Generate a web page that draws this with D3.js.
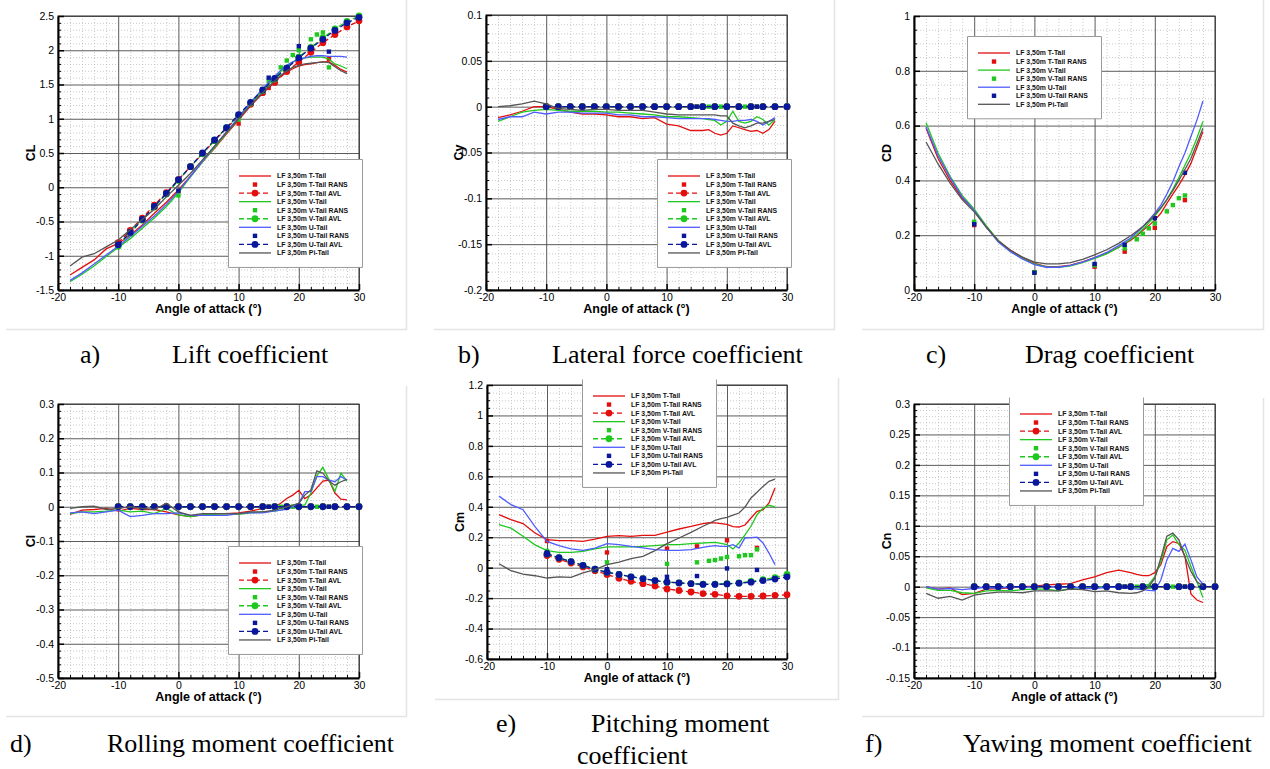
<!DOCTYPE html>
<html>
<head>
<meta charset="utf-8">
<script src="https://cdn.jsdelivr.net/npm/d3@7"></script>
<style>
  body { margin: 0; background: #fff; }
  svg { display: block; }
</style>
</head>
<body>
<svg id="fig" width="1270" height="769"></svg>
<script>
// ---- angles of attack ----
const aoaLine = [-18,-16,-14,-12,-10,-8,-6,-4,-2,0,2,4,6,8,10,12,14,16,17,18,19,20,21,22,23,24,25,26,27,28];
const aoaAvl = [-10,-8,-6,-4,-2,0,2,4,6,8,10,12,14,16,18,20,22,24,26,28,30];
const aoaRansT = [-10,0,10,15,20,25];
const aoaRansV = [-10,0,10,15,17,18,19,20,22,23,24,25];
const aoaRansU = [-10,0,10,15,20,25];

const xTicks = [-20,-10,0,10,20,30];

const seriesLabels = ["LF 3,50m T-Tail","LF 3,50m T-Tail RANS","LF 3,50m T-Tail AVL",
  "LF 3,50m V-Tail","LF 3,50m V-Tail RANS","LF 3,50m V-Tail AVL",
  "LF 3,50m U-Tail","LF 3,50m U-Tail RANS","LF 3,50m U-Tail AVL","LF 3,50m Pi-Tail"];

const captionLetters = ["a)","b)","c)","d)","e)","f)"];
const captionTitles = [["Lift coefficient"],["Lateral force coefficient"],["Drag coefficient"],
  ["Rolling moment coefficient"],["Pitching moment","coefficient"],["Yawing moment coefficient"]];
const yLabels = ["CL","Cy","CD","Cl","Cm","Cn"];

// ---- a) CL ----
const clTicks = [-1.5,-1,-0.5,0,0.5,1,1.5,2,2.5];
const clT  = [-1.28,-1.17,-1.06,-0.90,-0.82,-0.70,-0.55,-0.38,-0.22,-0.04,0.16,0.37,0.57,0.78,0.98,1.19,1.37,1.54,1.62,1.68,1.73,1.77,1.79,1.80,1.82,1.83,1.83,1.78,1.72,1.68];
const clV  = [-1.38,-1.27,-1.15,-1.01,-0.88,-0.75,-0.60,-0.45,-0.28,-0.08,0.15,0.37,0.58,0.79,1.00,1.22,1.42,1.60,1.69,1.77,1.83,1.87,1.89,1.90,1.90,1.90,1.87,1.80,1.77,1.73];
const clU  = [-1.36,-1.25,-1.12,-0.99,-0.86,-0.72,-0.57,-0.42,-0.25,-0.06,0.16,0.38,0.60,0.81,1.02,1.24,1.44,1.62,1.71,1.78,1.83,1.86,1.89,1.91,1.92,1.92,1.91,1.91,1.91,1.90];
const clPi = [-1.15,-1.02,-0.97,-0.87,-0.77,-0.62,-0.47,-0.32,-0.14,0.03,0.20,0.40,0.60,0.80,1.00,1.20,1.38,1.55,1.63,1.70,1.75,1.78,1.80,1.81,1.82,1.83,1.82,1.76,1.70,1.66];
const clRansT = [-0.81,-0.06,0.93,1.45,1.84,1.87];
const clRansV = [-0.87,-0.12,0.99,1.55,1.75,1.85,1.93,2.00,2.16,2.23,2.26,1.75];
const clRansU = [-0.84,-0.05,1.05,1.60,2.06,1.98];
const clAvlT = [-0.81,-0.63,-0.45,-0.26,-0.08,0.11,0.30,0.49,0.68,0.86,1.04,1.21,1.38,1.53,1.69,1.83,1.97,2.11,2.23,2.34,2.43];
const clAvlV = [-0.86,-0.67,-0.48,-0.29,-0.10,0.10,0.30,0.49,0.68,0.87,1.05,1.23,1.41,1.58,1.74,1.90,2.04,2.18,2.31,2.42,2.50];
const clAvlU = [-0.84,-0.66,-0.47,-0.28,-0.09,0.11,0.30,0.50,0.69,0.87,1.06,1.24,1.42,1.59,1.74,1.89,2.03,2.16,2.29,2.40,2.48];

// ---- b) Cy ----
const cyTicks = [-0.2,-0.15,-0.1,-0.05,0,0.05,0.1];
const cyT  = [-0.012,-0.009,-0.005,0.000,0.000,-0.003,-0.006,-0.008,-0.008,-0.009,-0.011,-0.011,-0.013,-0.012,-0.019,-0.021,-0.026,-0.026,-0.025,-0.029,-0.031,-0.029,-0.021,-0.023,-0.025,-0.027,-0.026,-0.029,-0.025,-0.016];
const cyV  = [-0.016,-0.011,-0.006,-0.004,-0.003,-0.004,-0.005,-0.005,-0.005,-0.006,-0.006,-0.007,-0.008,-0.009,-0.011,-0.011,-0.012,-0.013,-0.014,-0.015,-0.020,-0.016,-0.005,-0.016,-0.018,-0.016,-0.011,-0.014,-0.020,-0.014];
const cyU  = [-0.014,-0.011,-0.011,-0.006,-0.008,-0.006,-0.006,-0.007,-0.007,-0.007,-0.009,-0.009,-0.011,-0.011,-0.012,-0.013,-0.013,-0.013,-0.013,-0.014,-0.015,-0.016,-0.016,-0.015,-0.015,-0.014,-0.016,-0.020,-0.016,-0.012];
const cyPi = [0.000,0.001,0.003,0.006,0.003,-0.002,-0.003,-0.004,-0.003,-0.003,-0.004,-0.004,-0.004,-0.006,-0.008,-0.009,-0.009,-0.009,-0.009,-0.009,-0.010,-0.010,-0.018,-0.021,-0.023,-0.021,-0.018,-0.018,-0.016,-0.014];
const zeroRans6 = [0,0,0,0,0,0];
const zeroRans12 = [0,0,0,0,0,0,0,0,0,0,0,0];
const zeroAvl = [0,0,0,0,0,0,0,0,0,0,0,0,0,0,0,0,0,0,0,0,0];

// ---- c) CD ----
const cdTicks = [0,0.2,0.4,0.6,0.8,1];
const cdT  = [0.59,0.48,0.40,0.335,0.292,0.23,0.18,0.146,0.119,0.097,0.085,0.085,0.091,0.103,0.118,0.134,0.156,0.182,0.198,0.217,0.235,0.255,0.28,0.316,0.35,0.383,0.42,0.462,0.52,0.578];
const cdV  = [0.61,0.50,0.415,0.345,0.295,0.235,0.18,0.142,0.115,0.095,0.084,0.083,0.088,0.10,0.115,0.132,0.155,0.185,0.202,0.222,0.245,0.27,0.298,0.33,0.368,0.41,0.455,0.50,0.555,0.615];
const cdU  = [0.595,0.49,0.41,0.34,0.29,0.23,0.175,0.14,0.113,0.093,0.083,0.083,0.09,0.102,0.118,0.137,0.162,0.19,0.21,0.23,0.255,0.28,0.31,0.35,0.395,0.45,0.50,0.56,0.62,0.69];
const cdPi = [0.54,0.46,0.39,0.33,0.285,0.23,0.18,0.145,0.12,0.102,0.095,0.095,0.10,0.112,0.128,0.147,0.17,0.198,0.214,0.232,0.252,0.275,0.30,0.33,0.363,0.40,0.44,0.48,0.535,0.59];
const cdRansT = [0.237,0.065,0.085,0.14,0.227,0.328];
const cdRansV = [0.249,0.065,0.09,0.152,0.185,0.205,0.225,0.243,0.287,0.31,0.335,0.345];
const cdRansU = [0.24,0.063,0.095,0.165,0.262,0.428];

// ---- d) Cl ----
const clrTicks = [-0.5,-0.4,-0.3,-0.2,-0.1,0,0.1,0.2,0.3];
const clrT  = [-0.022,-0.010,-0.008,-0.005,-0.013,-0.005,-0.008,-0.008,-0.015,-0.024,-0.029,-0.024,-0.020,-0.020,-0.018,-0.013,-0.005,0.000,0.010,0.024,0.034,0.048,0.024,0.035,0.055,0.075,0.078,0.040,0.022,0.020];
const clrV  = [-0.020,-0.015,-0.015,-0.013,-0.010,-0.015,-0.013,-0.020,-0.005,-0.024,-0.029,-0.024,-0.022,-0.020,-0.022,-0.018,-0.015,-0.013,-0.010,-0.005,0.000,0.005,0.005,0.040,0.090,0.115,0.080,0.045,0.098,0.075];
const clrU  = [-0.018,-0.015,-0.020,-0.015,-0.010,-0.029,-0.025,-0.020,-0.020,-0.018,-0.025,-0.025,-0.025,-0.025,-0.020,-0.018,-0.018,-0.012,-0.010,-0.008,0.000,0.010,0.044,0.044,0.088,0.088,0.078,0.073,0.088,0.078];
const clrPi = [-0.005,0.000,0.002,-0.008,-0.005,0.000,-0.005,-0.008,0.010,-0.015,-0.025,-0.020,-0.020,-0.020,-0.020,-0.015,-0.015,-0.010,-0.005,0.000,0.005,0.010,0.034,0.049,0.105,0.098,0.075,0.063,0.073,0.080];

// ---- e) Cm ----
const cmTicks = [-0.6,-0.4,-0.2,0,0.2,0.4,0.6,0.8,1,1.2];
const cmT  = [0.348,0.315,0.29,0.228,0.184,0.177,0.177,0.173,0.188,0.206,0.21,0.206,0.212,0.212,0.234,0.254,0.271,0.29,0.295,0.294,0.29,0.284,0.27,0.267,0.28,0.326,0.37,0.38,0.425,0.524];
const cmV  = [0.282,0.26,0.206,0.15,0.112,0.10,0.10,0.107,0.123,0.136,0.136,0.136,0.14,0.145,0.151,0.151,0.158,0.162,0.165,0.166,0.16,0.151,0.123,0.162,0.215,0.272,0.348,0.39,0.41,0.40];
const cmU  = [0.47,0.414,0.381,0.27,0.173,0.145,0.123,0.114,0.129,0.158,0.152,0.14,0.13,0.118,0.114,0.114,0.118,0.134,0.14,0.145,0.14,0.14,0.151,0.129,0.195,0.197,0.20,0.162,0.096,0.02];
const cmPi = [0.026,-0.02,-0.042,-0.053,-0.068,-0.061,-0.064,-0.035,-0.013,0.02,0.037,0.059,0.074,0.112,0.158,0.195,0.232,0.272,0.29,0.311,0.322,0.331,0.345,0.359,0.398,0.458,0.495,0.534,0.567,0.582];
const cmRansT = [0.175,0.10,0.125,0.14,0.18,0.13];
const cmRansV = [0.11,0.035,0.025,0.035,0.045,0.05,0.06,0.07,0.075,0.082,0.082,0.12];
const cmRansU = [0.10,-0.01,-0.06,-0.055,-0.005,-0.015];
const cmAvlT = [0.08,0.055,0.03,0.005,-0.02,-0.045,-0.07,-0.09,-0.105,-0.12,-0.14,-0.15,-0.16,-0.17,-0.175,-0.185,-0.188,-0.188,-0.186,-0.182,-0.178];
const cmAvlV = [0.09,0.065,0.04,0.015,-0.01,-0.03,-0.045,-0.06,-0.072,-0.085,-0.095,-0.1,-0.105,-0.108,-0.108,-0.105,-0.1,-0.09,-0.078,-0.065,-0.045];
const cmAvlU = [0.09,0.065,0.04,0.015,-0.01,-0.03,-0.045,-0.06,-0.072,-0.085,-0.095,-0.1,-0.105,-0.11,-0.11,-0.107,-0.102,-0.095,-0.085,-0.075,-0.06];

// ---- f) Cn ----
const cnTicks = [-0.15,-0.1,-0.05,0,0.05,0.1,0.15,0.2,0.25,0.3];
const cnT  = [0.000,-0.004,-0.002,-0.013,-0.011,-0.004,-0.003,-0.002,0.000,0.001,0.003,0.004,0.005,0.011,0.016,0.023,0.027,0.023,0.020,0.018,0.018,0.023,0.036,0.066,0.074,0.071,0.050,-0.012,-0.022,-0.026];
const cnV  = [-0.002,-0.006,-0.006,-0.010,-0.011,-0.007,-0.006,-0.007,-0.005,-0.004,-0.004,-0.007,-0.003,-0.001,0.000,0.000,-0.001,-0.001,-0.001,0.000,0.004,0.016,0.041,0.077,0.085,0.069,0.060,0.033,0.008,-0.018];
const cnU  = [0.000,-0.004,-0.003,-0.005,-0.003,-0.001,-0.003,0.000,-0.001,0.000,0.001,-0.001,0.000,-0.003,-0.003,-0.001,-0.001,-0.003,-0.004,-0.005,-0.006,-0.007,0.011,0.044,0.063,0.058,0.070,0.044,0.016,0.004];
const cnPi = [-0.011,-0.019,-0.016,-0.022,-0.014,-0.011,-0.009,-0.009,-0.010,-0.007,-0.007,-0.007,-0.004,-0.005,-0.008,-0.007,-0.010,-0.011,-0.010,-0.007,0.000,0.014,0.047,0.083,0.088,0.077,0.049,0.025,0.008,0.001];

// colours
var colRed = "#e30f0f", colGreen = "#1fc81f", colBlueLine = "#4f5cff", colBlueDark = "#0a179c", colGray = "#555555";

// builds the 10 legend-ordered series of one panel
function makeSeries(lines, rans, avl) {
  var s = [
    {kind: "line", color: colRed, x: aoaLine, y: lines[0], label: 0},
    {kind: "rans", color: colRed, x: aoaRansT, y: rans[0], label: 1},
    {kind: "avl", color: colRed, x: aoaAvl, y: avl ? avl[0] : null, label: 2},
    {kind: "line", color: colGreen, x: aoaLine, y: lines[1], label: 3},
    {kind: "rans", color: colGreen, x: aoaRansV, y: rans[1], label: 4},
    {kind: "avl", color: colGreen, x: aoaAvl, y: avl ? avl[1] : null, label: 5},
    {kind: "line", color: colBlueLine, x: aoaLine, y: lines[2], label: 6},
    {kind: "rans", color: colBlueDark, x: aoaRansU, y: rans[2], label: 7},
    {kind: "avl", color: colBlueDark, x: aoaAvl, y: avl ? avl[2] : null, label: 8},
    {kind: "line", color: colGray, x: aoaLine, y: lines[3], label: 9}
  ];
  return s.filter(d => d.y);
}

var panels = [
  {L: 58, R: 359, T: 16, B: 290, yDom: [-1.5, 2.5], yTicks: clTicks, yMinor: 0.1,
   frame: [6, 0, 406, 329], legend: {x: 228, y: 159},
   series: makeSeries([clT, clV, clU, clPi], [clRansT, clRansV, clRansU], [clAvlT, clAvlV, clAvlU]),
   cap: {lx: 80, tx: 172, base: 363}},
  {L: 486, R: 787, T: 15, B: 290, yDom: [-0.2, 0.1], yTicks: cyTicks, yMinor: 0.01,
   frame: [434, 0, 834, 329], legend: {x: 657, y: 159},
   series: makeSeries([cyT, cyV, cyU, cyPi], [zeroRans6, zeroRans12, zeroRans6], [zeroAvl, zeroAvl, zeroAvl]),
   cap: {lx: 458, tx: 552, base: 363}},
  {L: 914, R: 1215, T: 16, B: 290, yDom: [0, 1], yTicks: cdTicks, yMinor: 0.05,
   frame: [862, 0, 1263, 329], legend: {x: 967, y: 36},
   series: makeSeries([cdT, cdV, cdU, cdPi], [cdRansT, cdRansV, cdRansU], null),
   cap: {lx: 926, tx: 1025, base: 363}},
  {L: 58, R: 359, T: 404, B: 678, yDom: [-0.5, 0.3], yTicks: clrTicks, yMinor: 0.02,
   frame: [6, 386, 406, 716], legend: {x: 228, y: 546},
   series: makeSeries([clrT, clrV, clrU, clrPi], [zeroRans6, zeroRans12, zeroRans6], [zeroAvl, zeroAvl, zeroAvl]),
   cap: {lx: 10, tx: 107, base: 752}},
  {L: 487, R: 787, T: 385, B: 659, yDom: [-0.6, 1.2], yTicks: cmTicks, yMinor: 0.05,
   frame: [435, 378, 838, 699], legend: {x: 582, y: 379, noTop: true},
   series: makeSeries([cmT, cmV, cmU, cmPi], [cmRansT, cmRansV, cmRansU], [cmAvlT, cmAvlV, cmAvlU]),
   cap: {lx: 496, tx: 591, tx2: 577, base: 732, base2: 764}},
  {L: 914, R: 1215, T: 404, B: 678, yDom: [-0.15, 0.3], yTicks: cnTicks, yMinor: 0.01,
   frame: [862, 398, 1263, 716], legend: {x: 1009, y: 397, noTop: true},
   series: makeSeries([cnT, cnV, cnU, cnPi], [zeroRans6, zeroRans12, zeroRans6], [zeroAvl, zeroAvl, zeroAvl]),
   cap: {lx: 865, tx: 963, base: 752}}
];

var svg = d3.select("#fig");
svg.append("rect").attr("width", 1270).attr("height", 769).attr("fill", "#fff");

var sans = "'Liberation Sans', Arial, Helvetica, sans-serif";
var serif = "'Liberation Serif', 'Times New Roman', serif";

function drawPanel(p, idx) {
  var x = d3.scaleLinear().domain([-20, 30]).range([p.L, p.R]);
  var y = d3.scaleLinear().domain(p.yDom).range([p.B, p.T]);
  var W = p.R - p.L, H = p.B - p.T;
  var g = svg.append("g");

  // faint edge of the pasted picture
  g.append("path")
    .attr("d", "M" + p.frame[0] + "," + (p.frame[3] + 0.5) + "H" + (p.frame[2] + 0.5) + "V" + p.frame[1])
    .attr("fill", "none").attr("stroke", "#e4e4e4").attr("stroke-width", 1.5);

  var xMinor = d3.range(-20, 31, 2).filter(v => v % 10 !== 0);
  var n = Math.round((p.yDom[1] - p.yDom[0]) / p.yMinor);
  var yMinor = d3.range(n + 1).map(i => p.yDom[0] + i * p.yMinor)
    .filter(v => !p.yTicks.some(t => Math.abs(t - v) < 1e-9));

  function styleGrid(sel, color, dash, w) {
    sel.select(".domain").remove();
    sel.selectAll("line").attr("stroke", color).attr("stroke-width", w).attr("stroke-dasharray", dash);
  }

  // minor grid
  g.append("g").attr("transform", "translate(0," + p.B + ")")
    .call(d3.axisBottom(x).tickValues(xMinor).tickSize(-H).tickFormat(""))
    .call(styleGrid, "#bdbdbd", "1,2", 0.8);
  g.append("g").attr("transform", "translate(" + p.L + ",0)")
    .call(d3.axisLeft(y).tickValues(yMinor).tickSize(-W).tickFormat(""))
    .call(styleGrid, "#bdbdbd", "1,2", 0.8);

  // major grid
  g.append("g").attr("transform", "translate(0," + p.B + ")")
    .call(d3.axisBottom(x).tickValues(xTicks).tickSize(-H).tickFormat(""))
    .call(styleGrid, "#4a4a4a", null, 0.9);
  g.append("g").attr("transform", "translate(" + p.L + ",0)")
    .call(d3.axisLeft(y).tickValues(p.yTicks).tickSize(-W).tickFormat(""))
    .call(styleGrid, "#4a4a4a", null, 0.9);

  g.append("rect").attr("x", p.L).attr("y", p.T).attr("width", W).attr("height", H)
    .attr("fill", "none").attr("stroke", "#333").attr("stroke-width", 1);

  // minor ticks
  g.append("g").attr("transform", "translate(0," + p.B + ")")
    .call(d3.axisBottom(x).tickValues(xMinor).tickSize(-3).tickFormat(""))
    .call(s => { s.select(".domain").remove(); s.selectAll("line").attr("stroke", "#000"); });
  g.append("g").attr("transform", "translate(" + p.L + ",0)")
    .call(d3.axisLeft(y).tickValues(yMinor).tickSize(-3).tickFormat(""))
    .call(s => { s.select(".domain").remove(); s.selectAll("line").attr("stroke", "#000"); });

  // main axes
  var ax = g.append("g").attr("transform", "translate(0," + p.B + ")")
    .call(d3.axisBottom(x).tickValues(xTicks).tickSize(-6).tickSizeOuter(0).tickPadding(4).tickFormat(d => String(d)));
  var ay = g.append("g").attr("transform", "translate(" + p.L + ",0)")
    .call(d3.axisLeft(y).tickValues(p.yTicks).tickSize(-6).tickSizeOuter(0).tickPadding(4).tickFormat(d => String(d)));
  [ax, ay].forEach(a => {
    a.attr("font-family", sans).attr("font-size", 10.5);
    a.select(".domain").attr("stroke", "#000").attr("stroke-width", 2);
    a.selectAll(".tick line").attr("stroke", "#000").attr("stroke-width", 1.5);
    a.selectAll(".tick text").attr("fill", "#000");
  });

  // axis titles
  g.append("text").attr("x", (p.L + p.R) / 2).attr("y", p.B + 23)
    .attr("text-anchor", "middle").attr("font-family", sans).attr("font-weight", "bold")
    .attr("font-size", 12.5).text("Angle of attack (\u00b0)");
  g.append("text").attr("transform", "translate(" + (p.L - 23) + "," + ((p.T + p.B) / 2) + ") rotate(-90)")
    .attr("text-anchor", "middle").attr("font-family", sans).attr("font-weight", "bold")
    .attr("font-size", 12.5).text(yLabels[idx]);

  // data
  var line = d3.line().x(d => x(d[0])).y(d => y(d[1]));
  p.series.forEach(s => {
    var pts = s.x.map((a, i) => [a, s.y[i]]);
    if (s.kind === "line") {
      g.append("path").attr("d", line(pts)).attr("fill", "none")
        .attr("stroke", s.color).attr("stroke-width", 1.3);
    } else if (s.kind === "rans") {
      g.selectAll(null).data(pts).enter().append("rect")
        .attr("x", d => x(d[0]) - 2.2).attr("y", d => y(d[1]) - 2.2)
        .attr("width", 4.4).attr("height", 4.4).attr("fill", s.color);
    } else {
      g.append("path").attr("d", line(pts)).attr("fill", "none")
        .attr("stroke", s.color).attr("stroke-width", 1.3).attr("stroke-dasharray", "5,3");
      g.selectAll(null).data(pts).enter().append("circle")
        .attr("cx", d => x(d[0])).attr("cy", d => y(d[1])).attr("r", 3.4).attr("fill", s.color);
    }
  });

  // legend
  var lg = p.legend, lw = 134, nEnt = p.series.length;
  var lh = 17 + (nEnt - 1) * 8.55 + 14;
  var box = g.append("g");
  box.append("rect").attr("x", lg.x).attr("y", lg.y).attr("width", lw).attr("height", lh).attr("fill", "#fff");
  var bx0 = lg.x + 0.5, bx1 = lg.x + lw + 0.5, by0 = lg.y + 0.5, by1 = lg.y + lh + 0.5;
  box.append("path")
    .attr("d", lg.noTop ? ("M" + bx0 + "," + by0 + "V" + by1 + "H" + bx1 + "V" + by0)
                        : ("M" + bx0 + "," + by0 + "V" + by1 + "H" + bx1 + "V" + by0 + "Z"))
    .attr("fill", "none").attr("stroke", "#9a9a9a").attr("stroke-width", 1);
  p.series.forEach((s, i) => {
    var ly = lg.y + 17 + i * 8.55, x0 = lg.x + 11, x1 = lg.x + 43, xc = (x0 + x1) / 2;
    if (s.kind === "line") {
      box.append("line").attr("x1", x0).attr("x2", x1).attr("y1", ly).attr("y2", ly)
        .attr("stroke", s.color).attr("stroke-width", 1.3);
    } else if (s.kind === "rans") {
      box.append("rect").attr("x", xc - 2.2).attr("y", ly - 2.2).attr("width", 4.4).attr("height", 4.4).attr("fill", s.color);
    } else {
      box.append("line").attr("x1", x0).attr("x2", x1).attr("y1", ly).attr("y2", ly)
        .attr("stroke", s.color).attr("stroke-width", 1.3).attr("stroke-dasharray", "5,3");
      box.append("circle").attr("cx", xc).attr("cy", ly).attr("r", 3.4).attr("fill", s.color);
    }
    box.append("text").attr("x", lg.x + 49).attr("y", ly).attr("dy", "0.35em")
      .attr("font-family", sans).attr("font-weight", "bold").attr("font-size", 6.9)
      .attr("fill", "#111").text(seriesLabels[s.label]);
  });

  // caption
  var c = p.cap;
  svg.append("text").attr("x", c.lx).attr("y", c.base).attr("font-family", serif)
    .attr("font-size", 26).attr("fill", "#000").text(captionLetters[idx]);
  captionTitles[idx].forEach((t, k) => {
    svg.append("text").attr("x", k === 0 ? c.tx : c.tx2).attr("y", k === 0 ? c.base : c.base2)
      .attr("font-family", serif).attr("font-size", 26).attr("fill", "#000").text(t);
  });
}

panels.forEach(drawPanel);
</script>
</body>
</html>
